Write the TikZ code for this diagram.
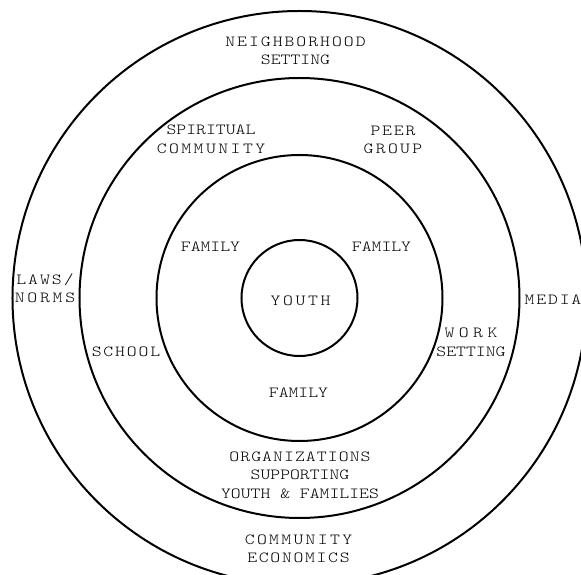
\documentclass[tikz,border=0pt]{standalone}
\usepackage{fontspec}
\newfontfamily\ringfont[FakeStretch=1.22]{Latin Modern Mono Light}
% tracked capitals, amount in percent of the font size
\newcommand{\spaced}[2]{{\addfontfeature{LetterSpace=#1}#2}}
\tikzset{
    ring/.style={line width=2pt, draw=black},
    ring label/.style={
        align=center, inner sep=0pt, text=black,
        font=\ringfont\fontsize{15.4pt}{18.5pt}\selectfont
    }
}

\begin{document}
\begin{tikzpicture}[x=1pt, y=1pt]
\useasboundingbox (-299.5,-277) rectangle (281.5,298);
\clip (-299.5,-277) rectangle (281.5,298);

% rings, from the inside out:
\foreach \r in {58,143,220,287} {
  \draw [ring] (0,0) circle[radius=\r];
}

% youth and family
\node [ring label] (youth) at (1,-3) {\spaced{17}{YOUTH}};
\node [ring label] (familyleft) at (-89,51) {FAMILY};
\node [ring label] (familyright) at (82,51) {FAMILY};
\node [ring label] (familybottom) at (-1,-94.5) {FAMILY};

% second ring
\node [ring label] (spiritual) at (-88.5,158.5) {SPIRITUAL\\\spaced{16}{COMMUNITY}};
\node [ring label] (peer) at (93.5,158) {\spaced{12}{PEER}\\\spaced{15}{GROUP}};
\node [ring label] (school) at (-173.5,-54) {\spaced{12}{SCHOOL}};
\node [ring label] (work) at (171.5,-44.5) {\spaced{29}{WORK}\\SETTING};
\node [ring label] (organizations) at (0.5,-177)
  {\spaced{7}{ORGANIZATIONS}\\SUPPORTING\\YOUTH \& FAMILIES};

% outer ring
\node [ring label] (neighborhood) at (-4,247) {\spaced{13}{NEIGHBORHOOD}\\SETTING};
\node [ring label] (laws) at (-254.5,10) {\spaced{13}{LAWS/}\\\spaced{18}{NORMS}};
\node [ring label] (media) at (253.5,-2) {\spaced{12}{MEDIA}};
\node [ring label] (economics) at (-1,-251) {\spaced{15}{COMMUNITY}\\\spaced{11}{ECONOMICS}};

\end{tikzpicture}
\end{document}
